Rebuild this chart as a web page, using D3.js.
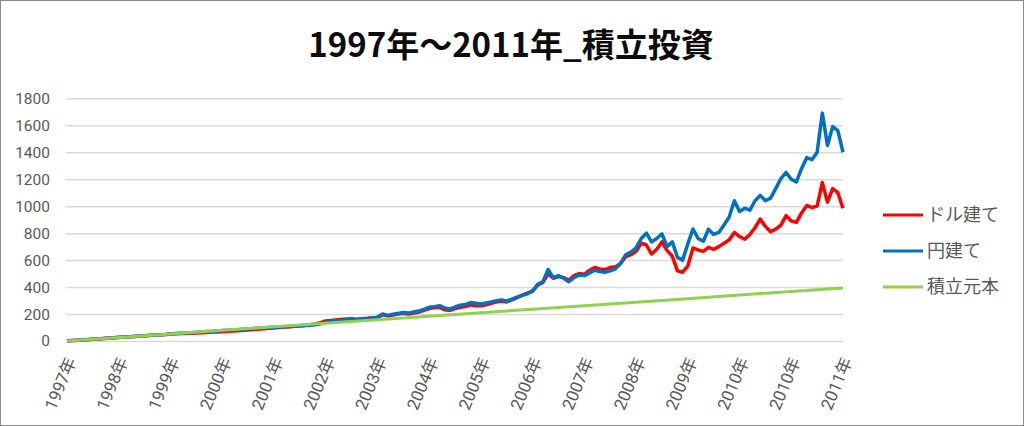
<!DOCTYPE html>
<html><head><meta charset="utf-8">
<script src="https://cdn.jsdelivr.net/npm/d3@7"></script>
<style>
html,body{margin:0;padding:0;background:#fff;}
svg{display:block;}
</style>
</head><body>
<svg id="chart" width="1024" height="426"></svg>
<script>
const title = "1997年～2011年_積立投資";
const xLabels = ["1997年","1998年","1999年","2000年","2001年","2002年","2003年","2004年","2005年","2006年","2007年","2008年","2009年","2010年","2010年","2011年"];
const yTicks = [0,200,400,600,800,1000,1200,1400,1600,1800];
const seriesNames = ["ドル建て","円建て","積立元本"];
const dollarValues = [0,3,6,8,11,13,15,19,22,24,27,29,32,34,36,38,41,44,46,48,51,54,55,56,58,59,61,63,66,67,69,72,74,76,79,82,85,88,91,94,97,100,103,106,109,113,116,120,126,136,148,152,156,160,163,165,162,165,168,172,174,195,186,193,200,206,200,208,214,227,240,246,250,232,228,240,250,256,268,262,262,268,280,290,296,290,305,322,340,355,372,415,435,500,465,478,470,450,485,500,495,525,545,535,530,545,550,575,625,640,665,725,712,645,680,735,670,630,520,510,555,690,675,665,695,680,700,725,750,805,775,755,790,840,905,850,810,830,860,930,890,880,950,1005,990,1000,1175,1030,1130,1100,985];
const yenValues = [0,3,5,8,10,13,16,18,21,23,26,29,31,34,37,39,42,44,47,49,52,55,57,59,62,64,67,70,72,75,77,80,82,84,87,90,92,95,98,100,102,104,106,108,109,112,114,117,121,128,138,145,150,152,158,160,157,162,166,171,176,200,190,198,205,212,207,215,222,235,250,255,262,245,238,252,265,270,285,280,275,282,290,298,305,295,310,325,338,350,370,420,440,530,470,485,465,440,470,490,485,505,525,515,510,520,535,575,640,660,690,760,800,735,760,795,700,735,620,600,720,830,760,740,830,790,805,860,920,1040,960,985,970,1040,1080,1040,1060,1130,1205,1250,1200,1180,1280,1360,1345,1400,1690,1450,1590,1560,1400];
// principal at each yearly label position
const principalValues = [0,26,52,79,105,131,157,183,210,236,262,288,314,341,367,393];
const colors = ["#FF0000","#0070C0","#92D050"];

const svg = d3.select("#chart");
svg.append("rect").attr("x",0.5).attr("y",0.5).attr("width",1023).attr("height",425)
  .attr("fill","#fff").attr("stroke","#898989").attr("stroke-width",1);

const n = yenValues.length - 1;
const x = d3.scaleLinear().domain([0, n]).range([67, 843]);
const y = d3.scaleLinear().domain([0, 1800]).range([341, 98.3]);
const labelStep = n / (xLabels.length - 1);

svg.append("text").attr("x",511).attr("y",57).attr("text-anchor","middle")
  .attr("font-family","'Noto Sans CJK JP', sans-serif").attr("font-weight","bold")
  .attr("font-size",33).attr("fill","#0d0d0d").text(title);

// grid
const yAxis = d3.axisLeft(y).tickValues(yTicks).tickSize(-(843-66)).tickPadding(16).tickFormat(d3.format("d"));
const gy = svg.append("g").attr("transform","translate(66,0)").call(yAxis);
gy.select(".domain").remove();
gy.selectAll(".tick line").attr("stroke","#d9d9d9").attr("stroke-width",1.5);
gy.selectAll(".tick text").attr("font-family","Roboto, 'Noto Sans CJK JP', sans-serif")
  .attr("font-size",15.5).attr("fill","#595959");

// x labels
const xAxis = d3.axisBottom(x).tickValues(xLabels.map((d,i)=>i*labelStep)).tickSize(0)
  .tickFormat((d,i)=>xLabels[i]);
const gx = svg.append("g").attr("transform","translate(0,341)").call(xAxis);
gx.select(".domain").remove();
gx.selectAll(".tick text")
  .attr("font-family","Roboto, 'Noto Sans CJK JP', sans-serif")
  .attr("font-size",17).attr("fill","#595959")
  .attr("text-anchor","end").attr("dy","0.35em")
  .attr("transform","translate(1,16) rotate(-67)");

const line = d3.line().x((d,i)=>x(i)).y(d=>y(d));
const linePrin = d3.line().x((d,i)=>x(i*labelStep)).y(d=>y(d));
const plot = svg.append("g");
plot.append("path").datum(dollarValues).attr("d",line).attr("fill","none")
  .attr("stroke",colors[0]).attr("stroke-width",3.5).attr("stroke-linejoin","round");
plot.append("path").datum(yenValues).attr("d",line).attr("fill","none")
  .attr("stroke",colors[1]).attr("stroke-width",3.5).attr("stroke-linejoin","round");
plot.append("path").datum(principalValues).attr("d",linePrin).attr("fill","none")
  .attr("stroke",colors[2]).attr("stroke-width",3).attr("stroke-linejoin","round");

// legend
const legY = d3.scalePoint().domain(seriesNames).range([215, 287]);
const leg = svg.append("g");
seriesNames.forEach((s,i)=>{
  leg.append("line").attr("x1",883).attr("x2",923).attr("y1",legY(s)).attr("y2",legY(s))
    .attr("stroke",colors[i]).attr("stroke-width",3);
  leg.append("text").attr("x",927).attr("y",legY(s)).attr("dy","0.35em")
    .attr("font-family","'Noto Sans CJK JP', sans-serif").attr("font-size",18)
    .attr("fill","#595959").text(s);
});
</script>
</body></html>
